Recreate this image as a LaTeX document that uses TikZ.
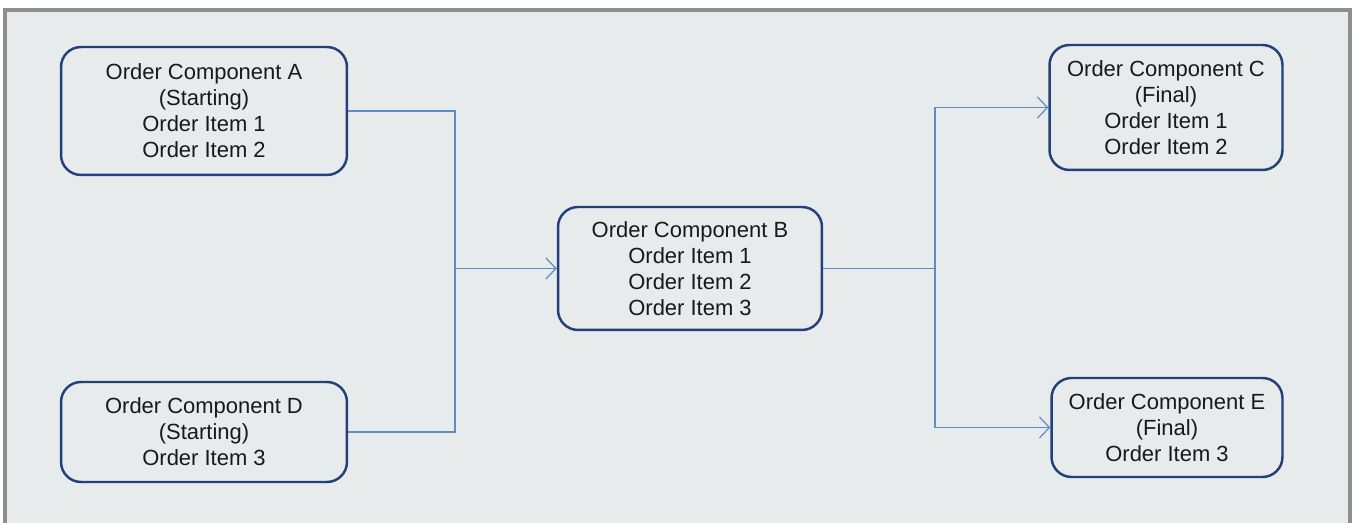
\documentclass[tikz,border=0pt]{standalone}
\usepackage{fontspec}
\setmainfont{Liberation Sans}
\usetikzlibrary{arrows.meta,positioning}
\definecolor{boxblue}{HTML}{24407A}
\definecolor{linkblue}{HTML}{5F8CC4}
\definecolor{paper}{HTML}{E7EBEB}
\definecolor{frame}{HTML}{8E8E8E}
\tikzset{
  comp/.style={draw=boxblue,line width=1.4pt,rounded corners=0.4cm,align=center,
    inner sep=0pt,text=black!90,font=\fontsize{12.5}{14.8}\selectfont},
  link/.style={draw=linkblue,line width=0.7pt},
  tip/.style={-{Straight Barb[length=2mm,width=4.2mm]}}
}
\begin{document}
\begin{tikzpicture}[x=0.02cm,y=0.02cm]
  \useasboundingbox (0,0) rectangle (1357,523);
  \fill[paper] (5,0) rectangle (1350,513);
  \draw[frame,line width=1.8pt] (5,0) -- (5,513) -- (1350,513) -- (1350,0);
  % components
  \node[comp,minimum width=5.72cm,minimum height=2.56cm] (A) at (204,412)
    {Order Component A\\(Starting)\\Order Item 1\\Order Item 2};
  \node[comp,minimum width=5.72cm,minimum height=2.0cm] (D) at (204,91)
    {Order Component D\\(Starting)\\Order Item 3};
  \node[comp,minimum width=5.28cm,minimum height=2.46cm] (B) at (690,254.5)
    {Order Component B\\Order Item 1\\Order Item 2\\Order Item 3};
  \node[comp,minimum width=4.66cm,minimum height=2.5cm] (C) at (1166,415.5)
    {Order Component C\\(Final)\\Order Item 1\\Order Item 2};
  \node[comp,minimum width=4.62cm,minimum height=1.98cm] (E) at (1167,95.5)
    {Order Component E\\(Final)\\Order Item 3};
  % junctions
  \coordinate (jl) at (455,254.5);
  \coordinate (jr) at (935,254.5);
  \draw[link] (A.east) -| (jl);
  \draw[link] (D.east) -| (jl);
  \draw[link,tip] (jl) -- (B.west);
  \draw[link] (B.east) -- (jr);
  \draw[link,tip] (jr) |- (C.west);
  \draw[link,tip] (jr) |- (E.west);
\end{tikzpicture}
\end{document}
